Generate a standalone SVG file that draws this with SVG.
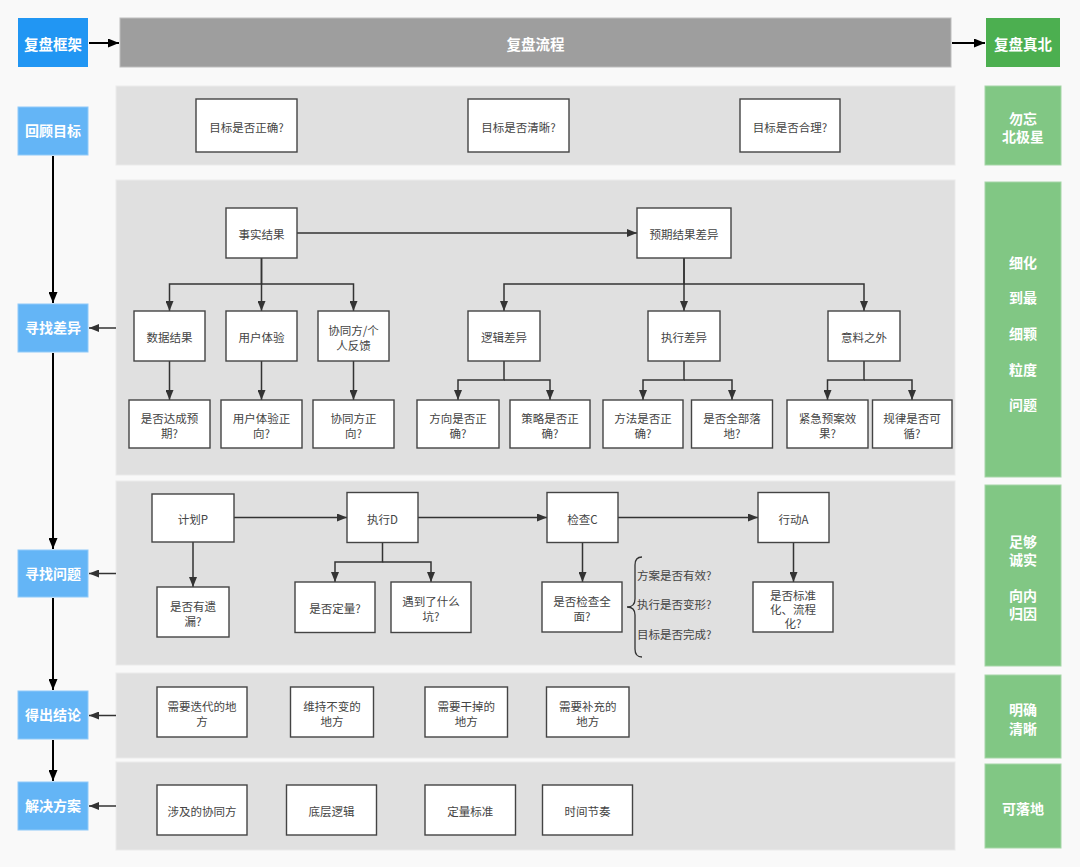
<svg xmlns="http://www.w3.org/2000/svg" width="1080" height="867" viewBox="0 0 1080 867">
<defs>
<style>
.bg{fill:#f9f9f9}
.panel{fill:#e0e0e0;stroke:#ebebeb;stroke-width:1}
.n{fill:#ffffff;stroke:#444444;stroke-width:1.4}
.t{font-family:"Noto Sans CJK SC","Liberation Sans",sans-serif;font-size:11.5px;fill:#444444;text-anchor:middle}
.tl{font-family:"Noto Sans CJK SC","Liberation Sans",sans-serif;font-size:11.5px;fill:#444444;text-anchor:start}
.h{font-family:"Noto Sans CJK SC","Liberation Sans",sans-serif;font-size:14px;font-weight:bold;fill:#ffffff;text-anchor:middle}
.blue{fill:#2196f3}
.lblue{fill:#64b5f6;stroke:#90caf9;stroke-width:1}
.gray{fill:#9e9e9e;stroke:#bdbdbd;stroke-width:1}
.green{fill:#4caf50}
.lgreen{fill:#81c784;stroke:#a5d6a7;stroke-width:1}
.c{fill:none;stroke:#333333;stroke-width:1.5}
.k{fill:none;stroke:#000000;stroke-width:2}
</style>
<marker id="a" markerUnits="userSpaceOnUse" markerWidth="10" markerHeight="8" refX="10" refY="4" orient="auto"><path d="M0,0 L10,4 L0,8 z" fill="#333333"/></marker>
<marker id="b" markerUnits="userSpaceOnUse" markerWidth="11" markerHeight="9" refX="11" refY="4.5" orient="auto"><path d="M0,0 L11,4.5 L0,9 z" fill="#000000"/></marker>
</defs>
<rect class="bg" x="0" y="0" width="1080" height="867"/>

<g id="panels">
<rect class="panel" x="116" y="86" width="839" height="79"/>
<rect class="panel" x="116" y="180" width="839" height="295"/>
<rect class="panel" x="116" y="481" width="839" height="184"/>
<rect class="panel" x="116" y="673" width="839" height="85"/>
<rect class="panel" x="116" y="762" width="839" height="88"/>
</g>

<g id="connectors">
<path class="k" d="M89,43 H119" marker-end="url(#b)"/>
<path class="k" d="M952,43 H985" marker-end="url(#b)"/>
<path class="k" d="M53,156 V303" marker-end="url(#b)"/>
<path class="k" d="M53,353 V549" marker-end="url(#b)"/>
<path class="k" d="M53,598 V690" marker-end="url(#b)"/>
<path class="k" d="M53,740 V781" marker-end="url(#b)"/>
<path class="c" d="M116,328 H89" marker-end="url(#a)"/>
<path class="c" d="M116,573.5 H89" marker-end="url(#a)"/>
<path class="c" d="M116,715.5 H89" marker-end="url(#a)"/>
<path class="c" d="M116,806 H89" marker-end="url(#a)"/>

<path class="c" d="M297,233 H637" marker-end="url(#a)"/>
<path class="c" d="M261.5,258 V284 H169.5 V311" marker-end="url(#a)"/>
<path class="c" d="M261.5,258 V311" marker-end="url(#a)"/>
<path class="c" d="M261.5,284 H353.5 V311" marker-end="url(#a)"/>
<path class="c" d="M169.5,361 V400" marker-end="url(#a)"/>
<path class="c" d="M261.5,361 V400" marker-end="url(#a)"/>
<path class="c" d="M353.5,361 V400" marker-end="url(#a)"/>
<path class="c" d="M684,258 V284 H504 V311" marker-end="url(#a)"/>
<path class="c" d="M684,258 V311" marker-end="url(#a)"/>
<path class="c" d="M684,284 H864 V311" marker-end="url(#a)"/>
<path class="c" d="M504,361 V380 H458 V400" marker-end="url(#a)"/>
<path class="c" d="M504,380 H550 V400" marker-end="url(#a)"/>
<path class="c" d="M684,361 V380 H643 V400" marker-end="url(#a)"/>
<path class="c" d="M684,380 H732 V400" marker-end="url(#a)"/>
<path class="c" d="M864,361 V380 H827.5 V400" marker-end="url(#a)"/>
<path class="c" d="M864,380 H912 V400" marker-end="url(#a)"/>

<path class="c" d="M234,517.5 H347" marker-end="url(#a)"/>
<path class="c" d="M418,517.5 H547" marker-end="url(#a)"/>
<path class="c" d="M618,517.5 H758" marker-end="url(#a)"/>
<path class="c" d="M193,542 V587" marker-end="url(#a)"/>
<path class="c" d="M382.5,543 V562 H335 V582" marker-end="url(#a)"/>
<path class="c" d="M382.5,562 H431 V582" marker-end="url(#a)"/>
<path class="c" d="M582.5,543 V582" marker-end="url(#a)"/>
<path class="c" d="M793.5,543 V582" marker-end="url(#a)"/>
<path fill="none" stroke="#333333" stroke-width="1.3" d="M642,557 Q635,557 635,565 L635,599 Q635,607 627,607 Q635,607 635,615 L635,649 Q635,657 642,657"/>
</g>

<g id="hdr-frame"><rect class="blue" x="18" y="18" width="70" height="49"/><text class="h" x="53" y="50" style="font-size:14.5px">复盘框架</text></g>
<g id="hdr-flow"><rect class="gray" x="120" y="18" width="831" height="49"/><text class="h" x="535.5" y="50" style="font-size:14.5px">复盘流程</text></g>
<g id="hdr-north"><rect class="green" x="986" y="18" width="74" height="49"/><text class="h" x="1023" y="50" style="font-size:14.5px">复盘真北</text></g>

<g id="l1"><rect class="lblue" x="18" y="107" width="70" height="48"/><text class="h" x="53" y="136">回顾目标</text></g>
<g id="l2"><rect class="lblue" x="18" y="304" width="70" height="48"/><text class="h" x="53" y="333">寻找差异</text></g>
<g id="l3"><rect class="lblue" x="18" y="550" width="70" height="47"/><text class="h" x="53" y="578.5">寻找问题</text></g>
<g id="l4"><rect class="lblue" x="18" y="691" width="70" height="48"/><text class="h" x="53" y="720">得出结论</text></g>
<g id="l5"><rect class="lblue" x="18" y="782" width="70" height="48"/><text class="h" x="53" y="811">解决方案</text></g>

<g id="r1"><rect class="lgreen" x="985" y="86" width="76" height="79"/><text class="h" x="1023" y="124">勿忘</text><text class="h" x="1023" y="142">北极星</text></g>
<g id="r2"><rect class="lgreen" x="985" y="182" width="76" height="295"/><text class="h" x="1023" y="267.5">细化</text><text class="h" x="1023" y="303">到最</text><text class="h" x="1023" y="338.5">细颗</text><text class="h" x="1023" y="374.5">粒度</text><text class="h" x="1023" y="409.5">问题</text></g>
<g id="r3"><rect class="lgreen" x="985" y="485" width="76" height="181"/><text class="h" x="1023" y="546.5">足够</text><text class="h" x="1023" y="565">诚实</text><text class="h" x="1023" y="600.5">向内</text><text class="h" x="1023" y="619">归因</text></g>
<g id="r4"><rect class="lgreen" x="985" y="675" width="76" height="83"/><text class="h" x="1023" y="715">明确</text><text class="h" x="1023" y="733.5">清晰</text></g>
<g id="r5"><rect class="lgreen" x="985" y="764" width="76" height="84"/><text class="h" x="1023" y="813.5">可落地</text></g>

<g id="g1"><rect class="n" x="196" y="99" width="101" height="53"/><text class="t" x="246.5" y="131.5">目标是否正确?</text></g>
<g id="g2"><rect class="n" x="468" y="99" width="101" height="53"/><text class="t" x="518.5" y="131.5">目标是否清晰?</text></g>
<g id="g3"><rect class="n" x="740" y="99" width="100" height="53"/><text class="t" x="790" y="131.5">目标是否合理?</text></g>

<g id="fact"><rect class="n" x="226" y="208" width="71" height="50"/><text class="t" x="261.5" y="239">事实结果</text></g>
<g id="expect"><rect class="n" x="637" y="208" width="94" height="50"/><text class="t" x="684" y="239">预期结果差异</text></g>
<g id="data"><rect class="n" x="134" y="311" width="71" height="50"/><text class="t" x="169.5" y="342">数据结果</text></g>
<g id="ux"><rect class="n" x="226" y="311" width="71" height="50"/><text class="t" x="261.5" y="342">用户体验</text></g>
<g id="coop"><rect class="n" x="318" y="311" width="71" height="50"/><text class="t" x="353.5" y="335">协同方/个</text><text class="t" x="353.5" y="349.5">人反馈</text></g>
<g id="logic"><rect class="n" x="468" y="311" width="72" height="50"/><text class="t" x="504" y="342">逻辑差异</text></g>
<g id="exec"><rect class="n" x="648" y="311" width="72" height="50"/><text class="t" x="684" y="342">执行差异</text></g>
<g id="unexp"><rect class="n" x="828" y="311" width="72" height="50"/><text class="t" x="864" y="342">意料之外</text></g>

<g id="q1"><rect class="n" x="129" y="400" width="81" height="48"/><text class="t" x="169.5" y="423">是否达成预</text><text class="t" x="169.5" y="437.5">期?</text></g>
<g id="q2"><rect class="n" x="221" y="400" width="81" height="48"/><text class="t" x="261.5" y="423">用户体验正</text><text class="t" x="261.5" y="437.5">向?</text></g>
<g id="q3"><rect class="n" x="313" y="400" width="81" height="48"/><text class="t" x="353.5" y="423">协同方正</text><text class="t" x="353.5" y="437.5">向?</text></g>
<g id="q4"><rect class="n" x="417" y="400" width="82" height="48"/><text class="t" x="458" y="423">方向是否正</text><text class="t" x="458" y="437.5">确?</text></g>
<g id="q5"><rect class="n" x="510" y="400" width="80" height="48"/><text class="t" x="550" y="423">策略是否正</text><text class="t" x="550" y="437.5">确?</text></g>
<g id="q6"><rect class="n" x="603" y="400" width="80" height="48"/><text class="t" x="643" y="423">方法是否正</text><text class="t" x="643" y="437.5">确?</text></g>
<g id="q7"><rect class="n" x="691.5" y="400" width="81" height="48"/><text class="t" x="732" y="423">是否全部落</text><text class="t" x="732" y="437.5">地?</text></g>
<g id="q8"><rect class="n" x="787" y="400" width="81" height="48"/><text class="t" x="827.5" y="423">紧急预案效</text><text class="t" x="827.5" y="437.5">果?</text></g>
<g id="q9"><rect class="n" x="872.5" y="400" width="79.5" height="48"/><text class="t" x="912" y="423">规律是否可</text><text class="t" x="912" y="437.5">循?</text></g>

<g id="plan"><rect class="n" x="152" y="494" width="82" height="48"/><text class="t" x="193" y="524">计划P</text></g>
<g id="do"><rect class="n" x="347" y="492.5" width="71" height="50"/><text class="t" x="382.5" y="523.5">执行D</text></g>
<g id="check"><rect class="n" x="547" y="492.5" width="71" height="50"/><text class="t" x="582.5" y="523.5">检查C</text></g>
<g id="act"><rect class="n" x="758" y="492.5" width="71" height="50"/><text class="t" x="793.5" y="523.5">行动A</text></g>
<g id="p1"><rect class="n" x="157" y="587" width="72" height="50"/><text class="t" x="193" y="611">是否有遗</text><text class="t" x="193" y="625.5">漏?</text></g>
<g id="d1"><rect class="n" x="295" y="582" width="80" height="50.5"/><text class="t" x="335" y="613">是否定量?</text></g>
<g id="d2"><rect class="n" x="391" y="582" width="80" height="50.5"/><text class="t" x="431" y="606">遇到了什么</text><text class="t" x="431" y="620.5">坑?</text></g>
<g id="c1"><rect class="n" x="542" y="582" width="80" height="50"/><text class="t" x="582" y="606">是否检查全</text><text class="t" x="582" y="620.5">面?</text></g>
<g id="a1"><rect class="n" x="753" y="582" width="80" height="50"/><text class="t" x="793" y="600">是否标准</text><text class="t" x="793" y="614">化、流程</text><text class="t" x="793" y="628">化?</text></g>
<g id="brace-text"><text class="tl" x="637" y="580">方案是否有效?</text><text class="tl" x="637" y="608.5">执行是否变形?</text><text class="tl" x="637" y="639">目标是否完成?</text></g>

<g id="s1"><rect class="n" x="157" y="687" width="90" height="50"/><text class="t" x="202" y="711">需要迭代的地</text><text class="t" x="202" y="725.5">方</text></g>
<g id="s2"><rect class="n" x="290.5" y="687" width="83" height="50"/><text class="t" x="332" y="711">维持不变的</text><text class="t" x="332" y="725.5">地方</text></g>
<g id="s3"><rect class="n" x="425" y="687" width="82.5" height="50"/><text class="t" x="466.2" y="711">需要干掉的</text><text class="t" x="466.2" y="725.5">地方</text></g>
<g id="s4"><rect class="n" x="546.5" y="687" width="82.5" height="50"/><text class="t" x="587.7" y="711">需要补充的</text><text class="t" x="587.7" y="725.5">地方</text></g>

<g id="m1"><rect class="n" x="157" y="785" width="90" height="50"/><text class="t" x="202" y="816">涉及的协同方</text></g>
<g id="m2"><rect class="n" x="286.5" y="785" width="90" height="50"/><text class="t" x="331.5" y="816">底层逻辑</text></g>
<g id="m3"><rect class="n" x="425" y="785" width="90.5" height="50"/><text class="t" x="470.2" y="816">定量标准</text></g>
<g id="m4"><rect class="n" x="542.5" y="785" width="90" height="50"/><text class="t" x="587.5" y="816">时间节奏</text></g>
</svg>
